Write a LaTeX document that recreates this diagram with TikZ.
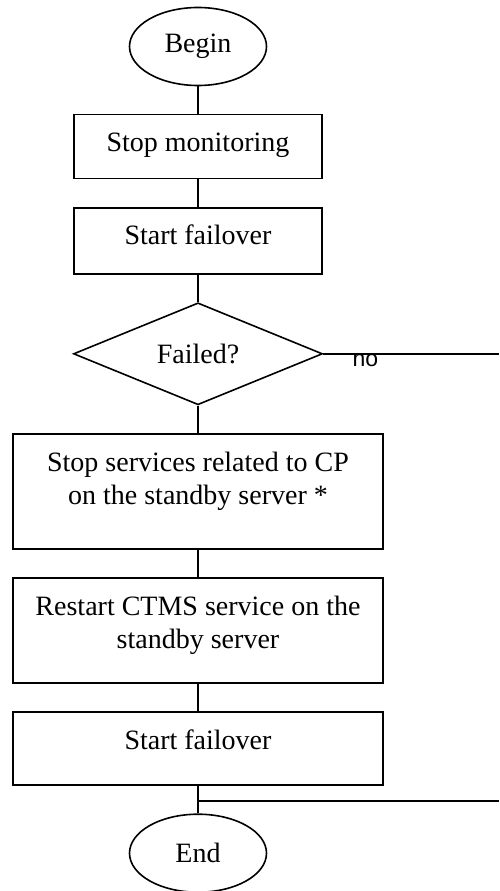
\documentclass[tikz,border=0pt]{standalone}
\usepackage{fontspec}
\setmainfont{Liberation Serif}
\newfontfamily\labelfont{Liberation Sans}
\usetikzlibrary{positioning,shapes.geometric,calc}
\newcommand{\boxtext}[3]{\parbox[c][#2][t]{#1}{\centering\strut #3}}

\begin{document}
\begin{tikzpicture}[
 x=1pt,y=1pt,
 node distance=27.5pt,
 every node/.style={font=\fontsize{28}{33}\selectfont},
 terminal/.style={ellipse,draw,line width=1.6pt,minimum width=137pt,minimum height=78pt,inner sep=0pt},
 box/.style={draw,line width=1.6pt,inner xsep=0pt,inner ysep=14pt},
 gate/.style={diamond,draw,line width=1.6pt,aspect=2.4,minimum width=249pt,minimum height=102pt,inner sep=0pt},
 link/.style={line width=1.6pt}
]
\useasboundingbox (0,0) rectangle (499,-891);
\node[terminal] (begin) at (198,-46.5) {Begin};
\node[box,below=of begin] (monitor) {\boxtext{248pt}{36pt}{Stop monitoring}};
\node[box,below=of monitor] (fo1) {\boxtext{248pt}{38pt}{Start failover}};
\node[gate,below=of fo1] (failed) {Failed?};
\node[box,below=of failed] (stopsvc) {\boxtext{370pt}{87pt}{Stop services related to CP\\on the standby server *}};
\node[box,below=of stopsvc] (restart) {\boxtext{370pt}{77pt}{Restart CTMS service on the\\standby server}};
\node[box,below=of restart] (fo2) {\boxtext{370pt}{45pt}{Start failover}};
\node[terminal,below=of fo2] (end) {End};
% right edge of the picture
\coordinate (rim) at (499,0);
\coordinate (join) at ($(fo2.south)!0.55!(end.north)$);
\draw[link] (begin) -- (monitor);
\draw[link] (monitor) -- (fo1);
\draw[link] (fo1) -- (failed);
\draw[link] (failed) -- (stopsvc);
\draw[link] (stopsvc) -- (restart);
\draw[link] (restart) -- (fo2);
\draw[link] (fo2) -- (end);
\draw[link] (failed.east) -- node[pos=0.24,below,inner sep=0pt,font=\labelfont\fontsize{23}{26}\selectfont]{no} (failed.east -| rim);
\draw[link] (join) -- (join -| rim);
\end{tikzpicture}
\end{document}
